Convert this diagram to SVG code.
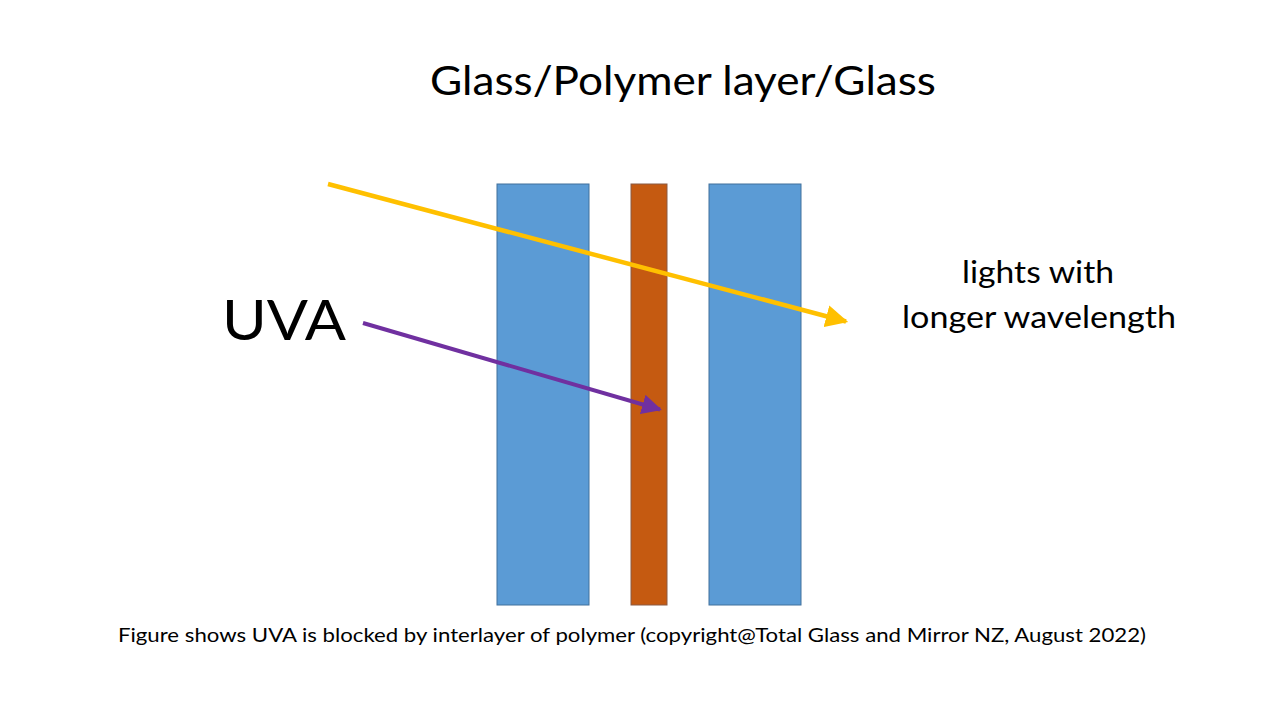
<svg xmlns="http://www.w3.org/2000/svg" width="1280" height="720" viewBox="0 0 1280 720">
<style>
.glass{fill:#5B9BD5;stroke:#41719C;stroke-width:1}
.poly{fill:#C55A11;stroke:#8A5A44;stroke-width:1}
.t{font-family:"Lato","Open Sans","Liberation Sans",sans-serif;fill:#000}
</style>
<defs>
<marker id="ay" viewBox="0 0 10 10" refX="9" refY="5" markerWidth="5" markerHeight="5" markerUnits="strokeWidth" orient="auto"><path d="M0,0 L10,5 L0,10 z" fill="#FFC000"/></marker>
<marker id="ap" viewBox="0 0 10 10" refX="9" refY="5" markerWidth="5" markerHeight="5" markerUnits="strokeWidth" orient="auto"><path d="M0,0 L10,5 L0,10 z" fill="#7030A0"/></marker>
</defs>
<rect width="1280" height="720" fill="#fff"/>
<g id="glass1"><rect class="glass" x="497" y="184" width="92" height="421"/></g>
<g id="polymer"><rect class="poly" x="631" y="184" width="36" height="421"/></g>
<g id="glass2"><rect class="glass" x="709" y="184" width="92" height="421"/></g>
<g id="connectors">
<line x1="328" y1="184" x2="846" y2="321.5" stroke="#FFC000" stroke-width="4.5" marker-end="url(#ay)"/>
<line x1="363" y1="323" x2="660" y2="409.5" stroke="#7030A0" stroke-width="4" marker-end="url(#ap)"/>
</g>
<g id="title"><text class="t" x="683" y="95" font-size="40" text-anchor="middle" textLength="506" lengthAdjust="spacingAndGlyphs">Glass/Polymer layer/Glass</text></g>
<g id="uva"><text class="t" x="222" y="340" font-size="56" textLength="124" lengthAdjust="spacingAndGlyphs">UVA</text></g>
<g id="lights">
<text class="t" x="1038" y="283" font-size="30" text-anchor="middle" textLength="152" lengthAdjust="spacingAndGlyphs">lights with</text>
<text class="t" x="1039" y="328" font-size="30" text-anchor="middle" textLength="274" lengthAdjust="spacingAndGlyphs">longer wavelength</text>
</g>
<g id="caption"><text class="t" x="118" y="642" font-size="20" textLength="1028" lengthAdjust="spacingAndGlyphs">Figure shows UVA is blocked by interlayer of polymer (copyright@Total Glass and Mirror NZ, August 2022)</text></g>
</svg>
